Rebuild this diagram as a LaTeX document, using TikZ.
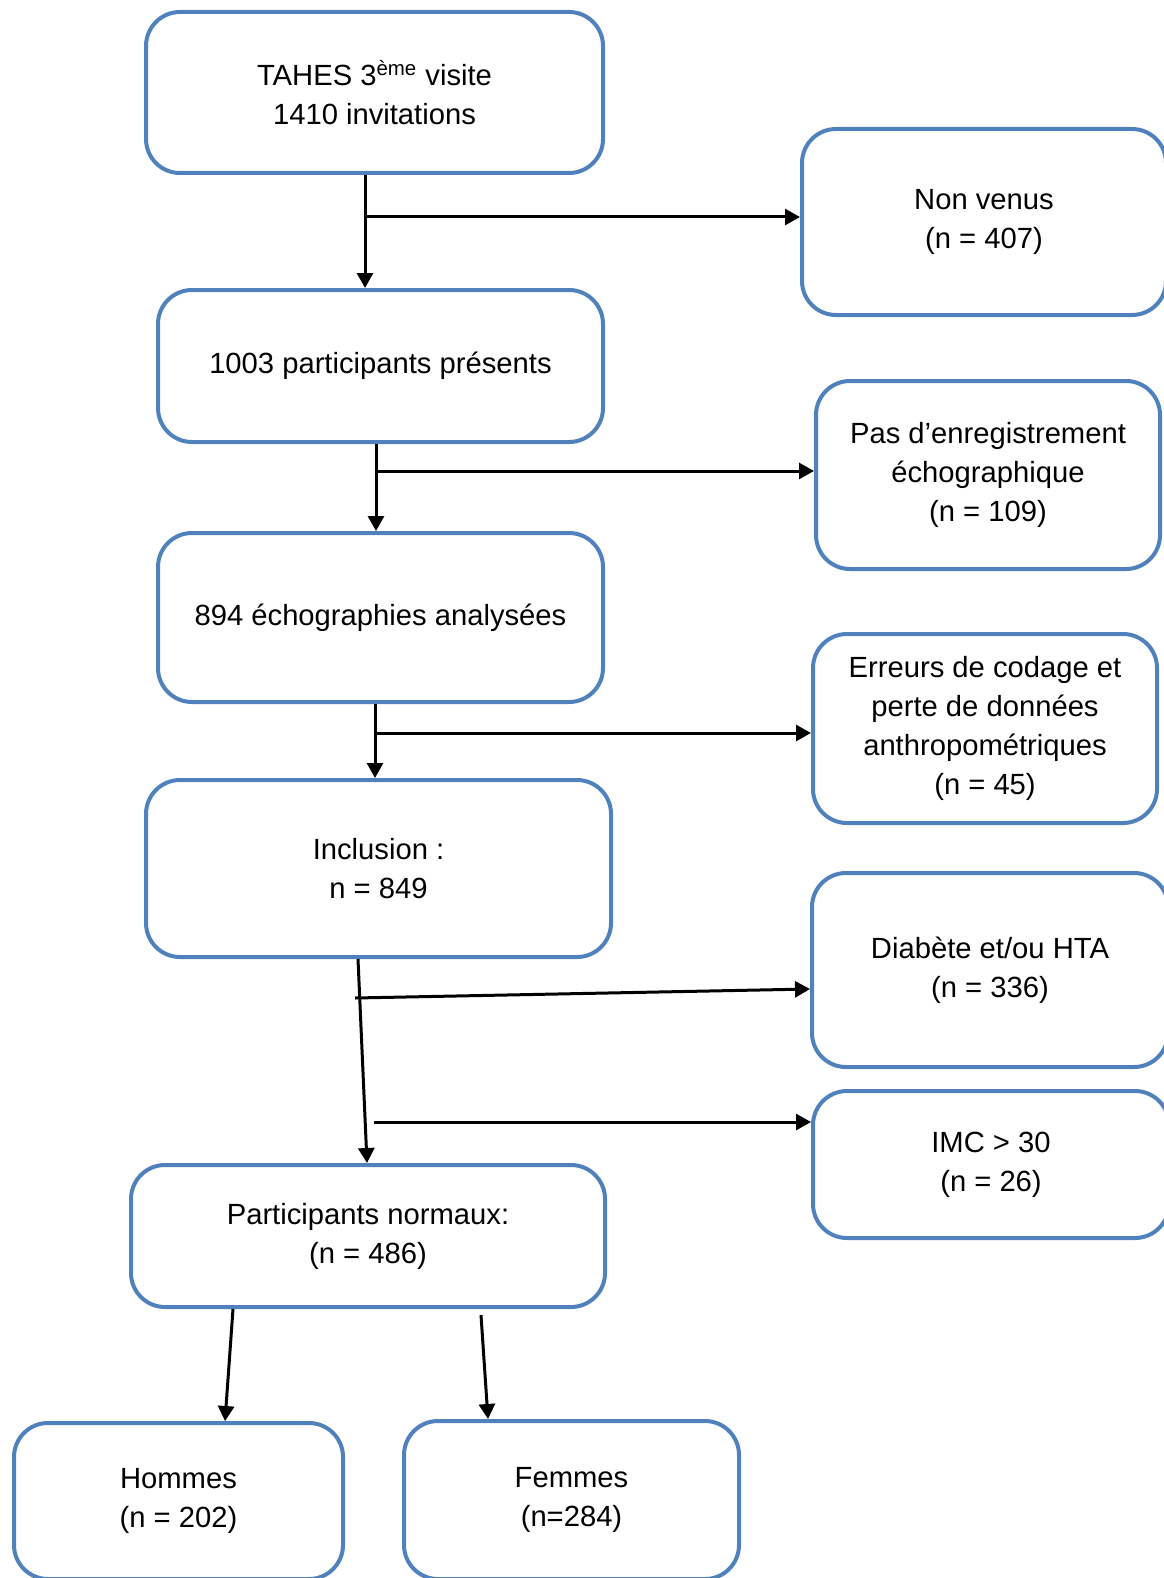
\documentclass[tikz,border=0pt]{standalone}
\usepackage{fontspec}
\setmainfont{Liberation Sans}
\usetikzlibrary{arrows.meta}
\usepackage{xcolor}
\definecolor{cadreblue}{RGB}{79, 129, 189}

\begin{document}
\begin{tikzpicture}[x=0.5pt, y=-0.5pt, >={Triangle[length=7.5pt,width=8pt]},
    font=\fontsize{14.6}{19.5}\selectfont,
    etape/.style={draw=cadreblue, line width=2pt, rounded corners=17pt,
        align=center, inner sep=0pt},
    fleche/.style={->, line width=1.5pt, black}]

    \useasboundingbox (0,0) rectangle (1163,1578);

    % --- colonne principale ---
    \node[etape, minimum width=228.5pt, minimum height=80.5pt] (tahes) at (374.5,92.5)
        {TAHES 3\textsuperscript{ème} visite\\1410 invitations};
    \node[etape, minimum width=222.5pt, minimum height=76pt] (presents) at (380.5,366)
        {1003 participants présents};
    \node[etape, minimum width=222.5pt, minimum height=84.5pt] (echos) at (380.5,617.5)
        {894 échographies analysées};
    \node[etape, minimum width=232.5pt, minimum height=88.5pt] (inclusion) at (378.5,868.5)
        {Inclusion :\\n = 849};
    \node[etape, minimum width=237pt, minimum height=71pt] (normaux) at (368,1236)
        {Participants normaux:\\(n = 486)};
    \node[etape, minimum width=164.5pt, minimum height=78pt] (hommes) at (178.5,1501)
        {Hommes\\(n = 202)};
    \node[etape, minimum width=167.5pt, minimum height=79pt] (femmes) at (571.5,1500)
        {Femmes\\(n=284)};

    % --- exclusions ---
    \node[etape, minimum width=182pt, minimum height=93pt] (nonvenus) at (984,222)
        {Non venus\\(n = 407)};
    \node[etape, minimum width=172pt, minimum height=94pt] (nonenreg) at (988,475)
        {Pas d’enregistrement\\échographique\\(n = 109)};
    \node[etape, minimum width=172pt, minimum height=94.5pt] (erreurs) at (985,728.5)
        {Erreurs de codage et\\perte de données\\anthropométriques\\(n = 45)};
    \node[etape, minimum width=178pt, minimum height=97pt] (diabete) at (990,970)
        {Diabète et/ou HTA\\(n = 336)};
    \node[etape, minimum width=178pt, minimum height=73.5pt] (imc) at (991,1164.5)
        {IMC > 30\\(n = 26)};

    % --- points de depart des branches ---
    \coordinate (b1) at (365,217);
    \coordinate (b2) at (376,471);
    \coordinate (b3) at (375,733);
    \coordinate (d1) at (355,998);
    \coordinate (d2) at (374,1122);

    % --- fleches ---
    \draw[fleche] (tahes.south -| b1) -- (presents.north -| b1);
    \draw[fleche] (b1) -- (b1 -| nonvenus.west);
    \draw[fleche] (presents.south -| b2) -- (echos.north -| b2);
    \draw[fleche] (b2) -- (b2 -| nonenreg.west);
    \draw[fleche] (echos.south -| b3) -- (inclusion.north -| b3);
    \draw[fleche] (b3) -- (b3 -| erreurs.west);
    \draw[fleche] ([xshift=-10.25pt]inclusion.south) -- ([xshift=-0.5pt]normaux.north);
    \draw[fleche] (d1) -- ([yshift=-9.5pt]diabete.west);
    \draw[fleche] (d2) -- (d2 -| imc.west);
    \draw[fleche] ([xshift=-67.5pt]normaux.south) -- ([xshift=23.25pt]hommes.north);
    \draw[fleche] ([xshift=56.5pt,yshift=-3pt]normaux.south) -- ([xshift=-41.75pt]femmes.north);

\end{tikzpicture}
\end{document}
